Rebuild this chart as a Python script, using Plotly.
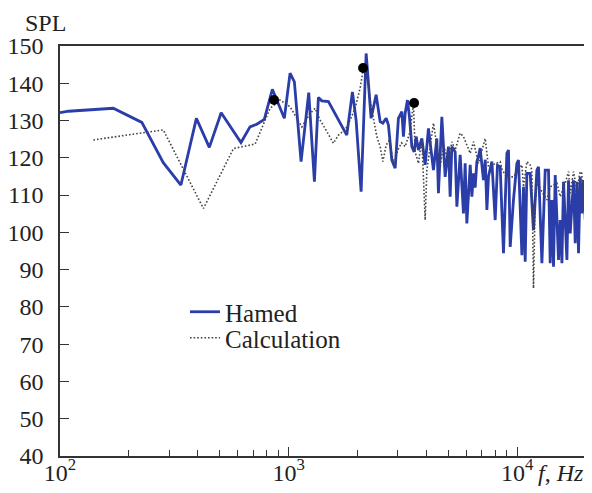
import plotly.graph_objects as go

# ---- data ----
hamed_f = [100, 109, 171, 228, 283, 338, 395, 450, 507, 619, 678, 726, 783, 849, 958,
           1015, 1060, 1134, 1225, 1297, 1350, 1397, 1494, 1797, 1902, 1974, 2076, 2184,
           2235, 2296, 2415, 2515, 2584, 2672, 2734, 2829, 2925, 3023, 3129, 3180, 3235,
           3311, 3379, 3461, 3542, 3614, 3698, 3828, 3958, 4091, 4302, 4452, 4524, 4682,
           4841, 5004, 5091, 5178, 5355, 5447, 5631, 5821, 5921, 6023, 6229, 6336, 6441,
           6550, 6662, 6770, 6887, 7120, 7250, 7370, 7490, 7751, 8012, 8200, 8426, 8710,
           9014, 9161, 9320, 9634, 9970, 10130, 10486, 10656, 10840, 11026, 11400, 11785,
           12196, 12395, 12826, 13260, 13709, 13945, 14186, 14419, 14668, 15163, 15427,
           15692, 15947, 16501, 16769, 17058, 17638, 17941, 18253, 18549, 18869, 19193,
           19509, 19850]
hamed_spl = [132.1, 132.5, 133.3, 129.5, 118.7, 112.7, 130.6, 122.8, 132.1, 124.1, 128.3,
             129.0, 130.3, 138.4, 130.6, 142.7, 140.4, 119.0, 137.5, 113.6, 136.2, 135.3,
             135.1, 126.1, 137.7, 130.1, 110.9, 148.0, 140.0, 130.6, 136.9, 129.7, 129.3,
             130.6, 128.8, 119.4, 117.2, 130.6, 132.4, 125.7, 131.9, 135.5, 131.0, 123.0,
             121.6, 125.7, 122.1, 125.2, 118.1, 127.9, 116.7, 125.2, 110.5, 131.0, 114.9,
             123.0, 109.6, 123.0, 121.6, 106.9, 120.8, 105.1, 118.5, 102.4, 118.1, 109.6,
             115.8, 112.0, 119.0, 120.3, 122.6, 114.0, 119.5, 106.0, 115.0, 119.0, 103.3,
             118.0, 117.6, 94.4, 121.2, 122.1, 96.1, 108.7, 118.5, 119.4, 93.9, 112.2,
             92.1, 115.8, 115.8, 100.6, 116.7, 117.6, 91.7, 116.7, 116.7, 91.7, 108.7,
             90.8, 115.4, 92.6, 103.3, 91.7, 113.6, 92.6, 114.0, 99.7, 114.0, 97.1, 113.6,
             94.4, 114.9, 105.1, 114.0, 103.3]

calc_f = [140, 283, 424, 574, 714, 830, 918, 1015, 1143, 1242, 1306, 1374, 1444, 1570,
          1652, 1767, 1858, 1954, 2055, 2125, 2199, 2274, 2350, 2432, 2515, 2584, 2672,
          2762, 2829, 2895, 3000, 3120, 3235, 3400, 3517, 3578, 3698, 3828, 3958, 4025,
          4302, 4452, 4603, 4759, 5004, 5178, 5355, 5631, 5821, 6229, 6441, 6770, 7244,
          7490, 8426, 8601, 9014, 9634, 10486, 10656, 11026, 11400, 11598, 11785, 11992,
          12196, 13484, 13945, 14918, 15427, 16225, 16769, 17058, 17638, 18253, 18869,
          19193, 19509, 19850]
calc_spl = [124.8, 127.5, 106.4, 122.5, 123.7, 133.3, 135.5, 133.7, 128.3, 131.9, 133.3,
            130.1, 127.9, 123.9, 126.1, 127.5, 130.1, 133.3, 138.7, 144.0, 143.1, 135.5,
            130.6, 125.7, 123.0, 119.0, 123.4, 124.8, 120.8, 118.1, 122.0, 124.0, 123.0,
            127.0, 134.7, 121.6, 118.5, 125.2, 103.3, 116.7, 129.3, 123.0, 117.6, 123.4,
            119.0, 124.3, 122.1, 126.6, 125.7, 121.2, 124.3, 118.5, 125.2, 117.6, 119.0,
            116.7, 114.9, 114.9, 118.1, 112.2, 119.0, 118.1, 116.7, 85.0, 108.7, 113.2,
            108.7, 112.2, 113.2, 109.6, 113.2, 116.3, 110.5, 116.3, 111.4, 116.3, 115.8,
            106.0, 115.4]

marker_f = [864, 2118, 3540]
marker_spl = [135.5, 144.1, 134.7]

y_ticks = [40, 50, 60, 70, 80, 90, 100, 110, 120, 130, 140, 150]
x_major = [100, 1000, 10000]
x_major_text = ["10<sup>2</sup>", "10<sup>3</sup>", "10<sup>4</sup>"]
x_minor = [m * d for d in (100, 1000) for m in range(2, 10)]

SERIF = "Liberation Serif, Times New Roman, serif"
AXC = "#333333"

# The page body adds an 8 px margin, so the figure is sized/placed to compensate.
PLOT_L, PLOT_B, PLOT_H = 60, 456, 410   # plot area in window pixels

def py(ywin):
    return (PLOT_B - ywin) / PLOT_H

def px(xwin):
    return (xwin - PLOT_L) / 526

fig = go.Figure()
fig.add_trace(go.Scatter(x=hamed_f, y=hamed_spl, mode="lines", name="Hamed",
                         line=dict(color="#2a3da8", width=2.8), legend="legend"))
fig.add_trace(go.Scatter(x=calc_f, y=calc_spl, mode="lines", name="Calculation",
                         line=dict(color="#444444", width=1.6, dash="1.6px,2px"),
                         legend="legend2"))
fig.add_trace(go.Scatter(x=marker_f, y=marker_spl, mode="markers", showlegend=False,
                         marker=dict(color="black", size=10)))

leg_common = dict(xanchor="left", yanchor="top", bgcolor="rgba(0,0,0,0)",
                  font=dict(size=25, family=SERIF, color="#222222"), itemwidth=30)

fig.update_layout(
    width=584, height=485,
    margin=dict(l=52, r=6, t=38, b=37, autoexpand=False),
    paper_bgcolor="white", plot_bgcolor="white",
    font=dict(family=SERIF, size=24, color="#222222"),
    showlegend=True,
    legend=dict(x=px(185), y=py(289), **leg_common),
    legend2=dict(x=px(185), y=py(315), **leg_common),
    xaxis=dict(type="log", range=[2, 4.30103], showgrid=False, zeroline=False,
               automargin=False,
               showline=True, linecolor=AXC, linewidth=1.5, mirror=True,
               tickvals=x_major, ticktext=x_major_text, ticks="inside", ticklen=9,
               tickcolor=AXC, tickwidth=1.3, ticklabelstandoff=-6,
               minor=dict(tickvals=x_minor, ticks="inside", ticklen=6,
                          tickcolor=AXC, tickwidth=1.3, showgrid=False)),
    yaxis=dict(range=[40, 150], showgrid=False, zeroline=False, automargin=False,
               showline=True, linecolor=AXC, linewidth=1.5, mirror=True,
               tickvals=y_ticks, ticks="inside", ticklen=9, tickcolor=AXC, tickwidth=1.3,
               ticklabelstandoff=10),
    annotations=[
        dict(text="SPL", xref="paper", yref="paper", x=0, y=py(23), xshift=8,
             xanchor="right", yanchor="middle", showarrow=False,
             font=dict(size=24, family=SERIF)),
        dict(text="<i>f</i>, <i>Hz</i>", xref="paper", yref="paper",
             x=px(536), y=py(473), xanchor="left", yanchor="middle",
             showarrow=False, font=dict(size=24, family=SERIF)),
    ],
)

fig.write_html("out.html")
